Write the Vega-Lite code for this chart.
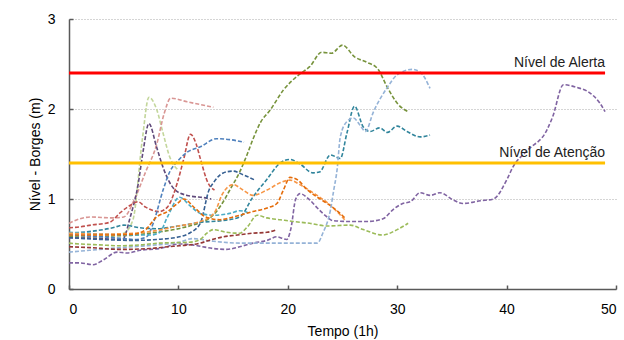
{
"$schema": "https://vega.github.io/schema/vega-lite/v6.json",
"width": 547, "height": 270,
"autosize": {"type": "none"},
"padding": {"left": 69, "top": 19, "right": 8, "bottom": 51},
"config": {"view": {"stroke": null}, "font": "Liberation Sans"},
"datasets": {
"series": [
{"s":"a","x":0,"y":0.58},{"s":"a","x":2,"y":0.58},{"s":"a","x":4,"y":0.59},{"s":"a","x":6,"y":0.6},{"s":"a","x":8,"y":0.63},{"s":"a","x":10,"y":0.67},{"s":"a","x":12,"y":0.74},{"s":"a","x":13,"y":0.8},{"s":"a","x":14,"y":0.95},{"s":"a","x":14.7,"y":1.1},{"s":"a","x":15.6,"y":1.3},{"s":"a","x":16.3,"y":1.5},{"s":"a","x":16.8,"y":1.66},{"s":"a","x":17.5,"y":1.85},{"s":"a","x":18.4,"y":1.99},{"s":"a","x":19.6,"y":2.21},{"s":"a","x":21,"y":2.38},{"s":"a","x":22,"y":2.47},{"s":"a","x":23.1,"y":2.63},{"s":"a","x":24,"y":2.62},{"s":"a","x":25,"y":2.71},{"s":"a","x":26.1,"y":2.58},{"s":"a","x":27.2,"y":2.52},{"s":"a","x":28.2,"y":2.45},{"s":"a","x":29.1,"y":2.24},{"s":"a","x":30.1,"y":2.05},{"s":"a","x":31,"y":1.97},
{"s":"b","x":0,"y":0.6},{"s":"b","x":2,"y":0.59},{"s":"b","x":4,"y":0.6},{"s":"b","x":5,"y":0.62},{"s":"b","x":5.85,"y":0.77},{"s":"b","x":6.7,"y":1.66},{"s":"b","x":7.3,"y":2.13},{"s":"b","x":8,"y":2.0},{"s":"b","x":8.6,"y":1.73},{"s":"b","x":9.2,"y":1.47},{"s":"b","x":10,"y":1.32},
{"s":"c","x":0,"y":0.73},{"s":"c","x":1,"y":0.78},{"s":"c","x":2,"y":0.8},{"s":"c","x":4,"y":0.79},{"s":"c","x":5,"y":0.8},{"s":"c","x":6,"y":1.0},{"s":"c","x":7,"y":1.3},{"s":"c","x":8,"y":1.6},{"s":"c","x":8.7,"y":1.95},{"s":"c","x":9.3,"y":2.12},{"s":"c","x":10.8,"y":2.08},{"s":"c","x":13.2,"y":2.02},
{"s":"d","x":0,"y":0.57},{"s":"d","x":3,"y":0.56},{"s":"d","x":4.9,"y":0.55},{"s":"d","x":5.6,"y":0.8},{"s":"d","x":6.3,"y":1.15},{"s":"d","x":6.8,"y":1.55},{"s":"d","x":7.3,"y":1.84},{"s":"d","x":8,"y":1.58},{"s":"d","x":8.6,"y":1.35},{"s":"d","x":9.7,"y":1.1},{"s":"d","x":10.8,"y":1.04},{"s":"d","x":12.6,"y":1.01},{"s":"d","x":13,"y":1.0},
{"s":"e","x":0,"y":0.68},{"s":"e","x":1,"y":0.69},{"s":"e","x":2,"y":0.71},{"s":"e","x":3.7,"y":0.74},{"s":"e","x":4.7,"y":0.85},{"s":"e","x":5.6,"y":0.93},{"s":"e","x":6.3,"y":0.97},{"s":"e","x":7,"y":0.91},{"s":"e","x":8.2,"y":0.86},{"s":"e","x":9,"y":0.91},{"s":"e","x":9.9,"y":1.18},{"s":"e","x":10.5,"y":1.45},{"s":"e","x":11.1,"y":1.72},{"s":"e","x":11.6,"y":1.62},{"s":"e","x":12,"y":1.45},{"s":"e","x":12.7,"y":1.18},{"s":"e","x":13.3,"y":1.1},
{"s":"f","x":0,"y":0.6},{"s":"f","x":3,"y":0.58},{"s":"f","x":5,"y":0.56},{"s":"f","x":6,"y":0.55},{"s":"f","x":7.1,"y":0.58},{"s":"f","x":7.7,"y":0.73},{"s":"f","x":8.6,"y":1.1},{"s":"f","x":9.2,"y":1.3},{"s":"f","x":10,"y":1.43},{"s":"f","x":10.8,"y":1.52},{"s":"f","x":12,"y":1.58},{"s":"f","x":13.5,"y":1.67},{"s":"f","x":14.7,"y":1.66},{"s":"f","x":16,"y":1.63},
{"s":"g","x":0,"y":0.57},{"s":"g","x":3,"y":0.55},{"s":"g","x":6,"y":0.54},{"s":"g","x":8,"y":0.55},{"s":"g","x":10.1,"y":0.58},{"s":"g","x":11,"y":0.62},{"s":"g","x":12,"y":0.73},{"s":"g","x":12.8,"y":1.1},{"s":"g","x":13.2,"y":1.18},{"s":"g","x":14.1,"y":1.29},{"s":"g","x":15,"y":1.31},{"s":"g","x":15.9,"y":1.27},{"s":"g","x":17,"y":1.21},
{"s":"h","x":0,"y":0.62},{"s":"h","x":2,"y":0.64},{"s":"h","x":4,"y":0.68},{"s":"h","x":5,"y":0.71},{"s":"h","x":6.5,"y":0.68},{"s":"h","x":8,"y":0.67},{"s":"h","x":10,"y":0.7},{"s":"h","x":12,"y":0.74},{"s":"h","x":14,"y":0.76},{"s":"h","x":15.6,"y":0.8},{"s":"h","x":16.8,"y":1.02},{"s":"h","x":18.1,"y":1.22},{"s":"h","x":19.3,"y":1.4},{"s":"h","x":20.2,"y":1.44},{"s":"h","x":21.1,"y":1.39},{"s":"h","x":22.3,"y":1.29},{"s":"h","x":22.9,"y":1.3},{"s":"h","x":23.9,"y":1.49},{"s":"h","x":24.8,"y":1.45},{"s":"h","x":25.4,"y":1.73},{"s":"h","x":26.1,"y":2.03},{"s":"h","x":26.9,"y":1.8},{"s":"h","x":27.5,"y":1.75},{"s":"h","x":28.4,"y":1.79},{"s":"h","x":29.1,"y":1.74},{"s":"h","x":30,"y":1.81},{"s":"h","x":30.9,"y":1.75},{"s":"h","x":32.1,"y":1.69},{"s":"h","x":33,"y":1.71},
{"s":"i","x":0,"y":0.63},{"s":"i","x":3,"y":0.61},{"s":"i","x":6,"y":0.6},{"s":"i","x":7.5,"y":0.6},{"s":"i","x":8.3,"y":0.63},{"s":"i","x":9,"y":0.8},{"s":"i","x":10.1,"y":1.02},{"s":"i","x":11.1,"y":0.92},{"s":"i","x":12,"y":0.84},{"s":"i","x":13.2,"y":0.82},{"s":"i","x":14.7,"y":0.84},{"s":"i","x":15.6,"y":0.87},{"s":"i","x":16.5,"y":0.84},
{"s":"j","x":0,"y":0.62},{"s":"j","x":3,"y":0.61},{"s":"j","x":6,"y":0.62},{"s":"j","x":8,"y":0.65},{"s":"j","x":10,"y":0.7},{"s":"j","x":12,"y":0.75},{"s":"j","x":13.3,"y":0.85},{"s":"j","x":14,"y":1.05},{"s":"j","x":15,"y":1.16},{"s":"j","x":15.9,"y":1.1},{"s":"j","x":16.8,"y":1.04},{"s":"j","x":18.1,"y":1.1},{"s":"j","x":19.3,"y":1.18},{"s":"j","x":20.2,"y":1.21},{"s":"j","x":21.1,"y":1.16},{"s":"j","x":22.3,"y":1.07},{"s":"j","x":23.6,"y":0.96},{"s":"j","x":24.5,"y":0.86},{"s":"j","x":25.2,"y":0.77},
{"s":"k","x":0,"y":0.6},{"s":"k","x":3,"y":0.6},{"s":"k","x":6,"y":0.61},{"s":"k","x":7,"y":0.66},{"s":"k","x":8,"y":0.8},{"s":"k","x":9,"y":0.86},{"s":"k","x":9.9,"y":0.95},{"s":"k","x":10.5,"y":1.0},{"s":"k","x":11.5,"y":0.9},{"s":"k","x":12.5,"y":0.8},{"s":"k","x":13.8,"y":0.77},{"s":"k","x":15,"y":0.8},{"s":"k","x":16.8,"y":0.86},{"s":"k","x":18.1,"y":0.9},{"s":"k","x":19,"y":0.95},{"s":"k","x":19.6,"y":1.1},{"s":"k","x":20.2,"y":1.24},{"s":"k","x":20.8,"y":1.22},{"s":"k","x":21.8,"y":1.1},{"s":"k","x":22.7,"y":1.02},{"s":"k","x":23.6,"y":0.95},{"s":"k","x":24.5,"y":0.87},{"s":"k","x":25.3,"y":0.78},
{"s":"l","x":0,"y":0.29},{"s":"l","x":1,"y":0.29},{"s":"l","x":2.2,"y":0.27},{"s":"l","x":3.1,"y":0.32},{"s":"l","x":4.4,"y":0.41},{"s":"l","x":5.3,"y":0.4},{"s":"l","x":6.5,"y":0.43},{"s":"l","x":8.3,"y":0.45},{"s":"l","x":10.1,"y":0.5},{"s":"l","x":11.3,"y":0.49},{"s":"l","x":12.2,"y":0.47},{"s":"l","x":13.2,"y":0.45},{"s":"l","x":14.4,"y":0.44},{"s":"l","x":15.6,"y":0.47},{"s":"l","x":16.8,"y":0.51},{"s":"l","x":18.1,"y":0.54},{"s":"l","x":19,"y":0.58},{"s":"l","x":19.9,"y":0.55},{"s":"l","x":20.3,"y":0.68},{"s":"l","x":20.7,"y":0.99},{"s":"l","x":21.1,"y":1.06},{"s":"l","x":22,"y":0.99},{"s":"l","x":22.7,"y":0.9},{"s":"l","x":23.6,"y":0.8},{"s":"l","x":24.1,"y":0.76},{"s":"l","x":25.7,"y":0.75},{"s":"l","x":27.2,"y":0.75},{"s":"l","x":28.7,"y":0.78},{"s":"l","x":29.6,"y":0.88},{"s":"l","x":30.5,"y":0.95},{"s":"l","x":31.2,"y":0.97},{"s":"l","x":32.1,"y":1.07},{"s":"l","x":33,"y":1.04},{"s":"l","x":33.9,"y":1.07},{"s":"l","x":35.1,"y":0.99},{"s":"l","x":36,"y":0.95},{"s":"l","x":37.6,"y":0.98},{"s":"l","x":38.8,"y":1.0},{"s":"l","x":40,"y":1.21},{"s":"l","x":40.6,"y":1.36},{"s":"l","x":41.9,"y":1.54},{"s":"l","x":43.7,"y":1.77},{"s":"l","x":44.2,"y":1.91},{"s":"l","x":45.2,"y":2.27},{"s":"l","x":46.4,"y":2.24},{"s":"l","x":47.6,"y":2.18},{"s":"l","x":48.5,"y":2.07},{"s":"l","x":49,"y":1.97},
{"s":"m","x":0,"y":0.41},{"s":"m","x":1.9,"y":0.43},{"s":"m","x":3.7,"y":0.45},{"s":"m","x":5.9,"y":0.47},{"s":"m","x":8,"y":0.49},{"s":"m","x":10.1,"y":0.52},{"s":"m","x":11.3,"y":0.56},{"s":"m","x":13.2,"y":0.53},{"s":"m","x":15.6,"y":0.51},{"s":"m","x":19.3,"y":0.51},{"s":"m","x":22,"y":0.51},{"s":"m","x":22.7,"y":0.51},{"s":"m","x":23.2,"y":0.62},{"s":"m","x":23.9,"y":0.88},{"s":"m","x":24.2,"y":1.1},{"s":"m","x":24.5,"y":1.32},{"s":"m","x":24.8,"y":1.69},{"s":"m","x":25.4,"y":1.86},{"s":"m","x":26,"y":1.9},{"s":"m","x":26.6,"y":1.82},{"s":"m","x":27.1,"y":1.75},{"s":"m","x":27.8,"y":1.96},{"s":"m","x":29.1,"y":2.24},{"s":"m","x":30,"y":2.38},{"s":"m","x":31.4,"y":2.44},{"s":"m","x":32.1,"y":2.41},{"s":"m","x":33,"y":2.23},
{"s":"n","x":0,"y":0.51},{"s":"n","x":1,"y":0.5},{"s":"n","x":2.8,"y":0.49},{"s":"n","x":4.7,"y":0.48},{"s":"n","x":6.5,"y":0.49},{"s":"n","x":8.3,"y":0.51},{"s":"n","x":11,"y":0.52},{"s":"n","x":12,"y":0.55},{"s":"n","x":12.6,"y":0.62},{"s":"n","x":13.2,"y":0.66},{"s":"n","x":14.4,"y":0.63},{"s":"n","x":15.6,"y":0.62},{"s":"n","x":16.3,"y":0.69},{"s":"n","x":17.2,"y":0.82},{"s":"n","x":18.1,"y":0.79},{"s":"n","x":19.3,"y":0.77},{"s":"n","x":20.5,"y":0.75},{"s":"n","x":22,"y":0.73},{"s":"n","x":23.6,"y":0.7},{"s":"n","x":25.7,"y":0.71},{"s":"n","x":26.9,"y":0.66},{"s":"n","x":28.7,"y":0.6},{"s":"n","x":30,"y":0.66},{"s":"n","x":31,"y":0.73},
{"s":"o","x":0,"y":0.47},{"s":"o","x":1.9,"y":0.46},{"s":"o","x":4.7,"y":0.44},{"s":"o","x":7.4,"y":0.45},{"s":"o","x":9.1,"y":0.47},{"s":"o","x":10.1,"y":0.48},{"s":"o","x":12,"y":0.51},{"s":"o","x":12.8,"y":0.54},{"s":"o","x":14.1,"y":0.58},{"s":"o","x":15.4,"y":0.6},{"s":"o","x":16.8,"y":0.62},{"s":"o","x":18.1,"y":0.63},{"s":"o","x":19,"y":0.66}
],
"refs": [
{"label": "Nível de Alerta", "y": 2.4, "x0": 0, "x1": 49},
{"label": "Nível de Atenção", "y": 1.4, "x0": 0, "x1": 49}
]
},
"layer": [
{
"data": {"name": "series"},
"mark": {"type": "line", "interpolate": "monotone", "strokeDash": [4, 2], "strokeWidth": 1.6, "clip": true},
"encoding": {
"x": {"field": "x", "type": "quantitative", "scale": {"domain": [0, 50], "nice": false},
"axis": {"values": [0, 10, 20, 30, 40, 50], "format": "d", "title": "Tempo (1h)", "titleFont": "Liberation Sans", "titleFontSize": 14, "titleFontWeight": "normal", "titleColor": "#000", "titlePadding": 8, "labelFont": "Liberation Sans", "labelFontSize": 14, "labelColor": "#000", "labelPadding": 17, "tickSize": -4, "tickColor": "#595959", "domainColor": "#595959", "domainWidth": 1.5, "tickWidth": 1.5, "grid": false}},
"y": {"field": "y", "type": "quantitative", "scale": {"domain": [0, 3], "nice": false},
"axis": {"values": [0, 1, 2, 3], "format": "d", "title": "Nível - Borges (m)", "titleFont": "Liberation Sans", "titleFontSize": 14, "titleFontWeight": "normal", "titleColor": "#000", "titlePadding": 5, "labelFont": "Liberation Sans", "labelFontSize": 14, "labelColor": "#000", "labelPadding": 18, "tickSize": -4, "tickColor": "#595959", "domainColor": "#595959", "domainWidth": 1.5, "tickWidth": 1.5, "grid": true, "gridDash": [1, 2], "gridColor": "#aaaaaa", "gridWidth": 1}},
"color": {"field": "s", "type": "nominal", "legend": null,
"scale": {"domain": ["a","b","c","d","e","f","g","h","i","j","k","l","m","n","o"],
"range": ["#77933C","#C3D69B","#D99694","#604A7B","#C0504D","#4F81BD","#376092","#31859C","#4BACC6","#F79646","#E46C0A","#8064A2","#95B3D7","#9BBB59","#953735"]}}
}
},
{
"data": {"name": "refs"},
"transform": [{"filter": "datum.y > 2"}],
"mark": {"type": "rule", "color": "#FF0000", "strokeWidth": 3},
"encoding": {"x": {"field": "x0", "type": "quantitative"}, "x2": {"field": "x1"}, "y": {"field": "y", "type": "quantitative"}}
},
{
"data": {"name": "refs"},
"transform": [{"filter": "datum.y < 2"}],
"mark": {"type": "rule", "color": "#FFC000", "strokeWidth": 3},
"encoding": {"x": {"field": "x0", "type": "quantitative"}, "x2": {"field": "x1"}, "y": {"field": "y", "type": "quantitative"}}
},
{
"data": {"name": "refs"},
"mark": {"type": "text", "align": "right", "baseline": "bottom", "dy": -3, "fontSize": 14, "font": "Liberation Sans", "color": "#222"},
"encoding": {"x": {"field": "x1", "type": "quantitative"}, "y": {"field": "y", "type": "quantitative"}, "text": {"field": "label"}}
}
]
}
